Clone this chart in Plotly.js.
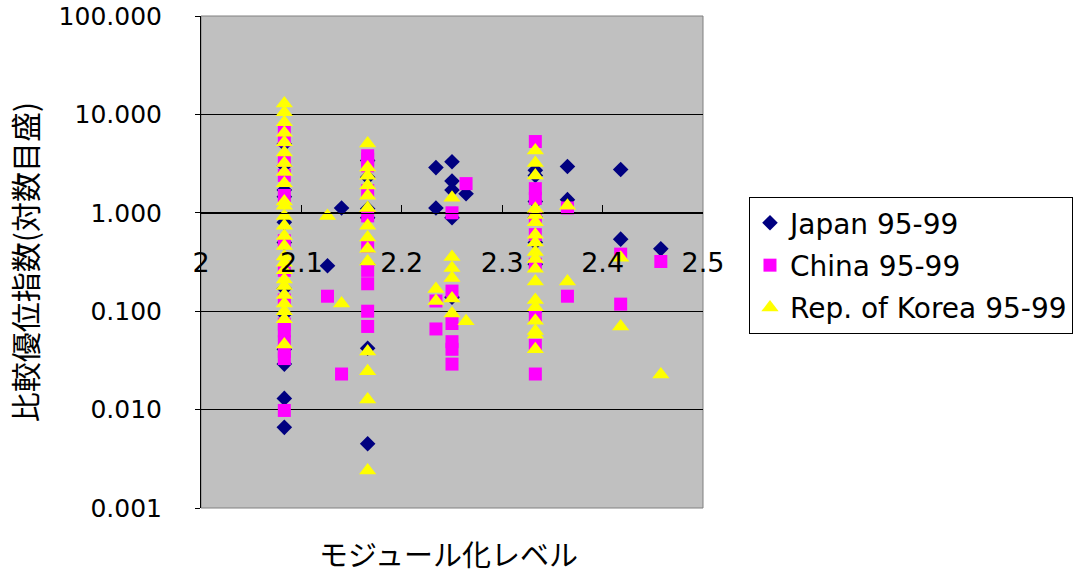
<!DOCTYPE html>
<html>
<head>
<meta charset="utf-8">
<script src="https://cdn.plot.ly/plotly-3.0.1.min.js"></script>
<style>html,body{margin:0;padding:0;background:#fff;}#chart{width:1076px;height:574px;}</style>
</head>
<body>
<div id="chart"></div>
<script>
// Japan 95-99
const japanX = [2.083,2.083,2.083,2.083,2.083,2.083,2.083,2.083,2.083,2.083,2.083,2.083,
  2.126, 2.14,
  2.166,2.166,2.166,2.166,2.166,2.166,2.166,
  2.234,2.234, 2.25,2.25,2.25,2.25,2.25, 2.264,
  2.333,2.333,2.333,2.333,2.333,2.333,2.333,
  2.365,2.365, 2.418,2.418, 2.458];
const japanY = [5.0,3.0,1.7,1.46,0.8,0.5,0.17,0.093,0.041,0.029,0.013,0.0066,
  0.29, 1.12,
  3.4,2.3,1.1,0.89,0.3,0.042,0.0045,
  2.88,1.12, 3.3,2.1,1.7,0.89,0.139, 1.56,
  2.7,2.4,1.3,0.9,0.5,0.3,0.1,
  2.95,1.36, 2.75,0.54, 0.43];

// China 95-99
const chinaX = [2.083,2.083,2.083,2.083,2.083,2.083,2.083,2.083,2.083,2.083,2.083,2.083,2.083,2.083,
  2.126, 2.14,
  2.166,2.166,2.166,2.166,2.166,2.166,2.166,2.166,2.166,2.166,
  2.25,2.25,2.25,2.25,2.25,2.25, 2.234,2.234, 2.264,
  2.333,2.333,2.333,2.333,2.333,2.333,2.333,2.333,2.333,
  2.365,2.365, 2.418,2.418, 2.458];
const chinaY = [7.0,5.5,3.4,2.4,1.5,0.52,0.26,0.13,0.074,0.063,0.049,0.039,0.033,0.0098,
  0.142, 0.023,
  3.8,3.5,3.0,1.68,0.93,0.46,0.26,0.19,0.10,0.07,
  1.0,0.16,0.075,0.049,0.041,0.029, 0.127,0.066, 1.98,
  5.3,1.76,1.4,0.9,0.6,0.3,0.089,0.045,0.023,
  1.12,0.142, 0.38,0.118, 0.32];

// Rep. of Korea 95-99
const koreaX = [2.083,2.083,2.083,2.083,2.083,2.083,2.083,2.083,2.083,2.083,2.083,2.083,2.083,
  2.083,2.083,2.083,2.083,2.083,2.083,2.083,2.083,2.083,2.083,2.083,2.083,
  2.126, 2.14,
  2.166,2.166,2.166,2.166,2.166,2.166,2.166,2.166,2.166,2.166,2.166,2.166,2.166,2.166,
  2.234,2.234, 2.25,2.25,2.25,2.25,2.25,2.25, 2.264,
  2.333,2.333,2.333,2.333,2.333,2.333,2.333,2.333,2.333,2.333,2.333,2.333,2.333,2.333,2.333,2.333,2.333,2.333,
  2.365,2.365, 2.418,2.418, 2.458];
const koreaY = [12.9,10.5,8.3,6.5,5.2,4.1,3.2,2.6,2.0,1.3,1.18,0.93,0.74,
  0.58,0.46,0.36,0.31,0.26,0.21,0.18,0.146,0.12,0.10,0.083,0.046,
  0.93, 0.12,
  5.06,2.88,2.38,1.89,1.49,1.12,0.74,0.56,0.43,0.32,0.039,0.0245,0.0127,0.0024,
  0.168,0.127, 1.42,0.355,0.275,0.217,0.135,0.095, 0.079,
  4.3,3.2,2.4,1.1,0.95,0.8,0.6,0.5,0.4,0.34,0.27,0.2,0.13,0.11,0.08,0.063,0.058,0.041,
  1.18,0.2, 0.35,0.07, 0.0227];

const seriesNames = ['Japan 95-99','China 95-99','Rep. of Korea 95-99'];
const yTickVals = [0.001,0.01,0.1,1,10,100];
const yTickText = ['0.001','0.010','0.100','1.000','10.000','100.000'];
const xTitle = 'モジュール化レベル';
const yTitle = '比較優位指数(対数目盛)';

const latin = 'DejaVu Sans, Arial, sans-serif';
const cjk = '"Noto Sans CJK JP", sans-serif';

const traces = [
  {x: japanX, y: japanY, name: seriesNames[0], type: 'scatter', mode: 'markers', legendgroup: 'a',
   marker: {symbol: 'diamond', size: 12, color: '#000080', line: {width: 0}}},
  {x: chinaX, y: chinaY, name: seriesNames[1], type: 'scatter', mode: 'markers', legendgroup: 'b',
   marker: {symbol: 'square', size: 13, color: '#FF00FF', line: {width: 0}}},
  {x: koreaX, y: koreaY, name: seriesNames[2], type: 'scatter', mode: 'markers', legendgroup: 'c',
   marker: {symbol: 'triangle-up', size: 15, color: '#FFFF00', line: {width: 0}}}
];

const layout = {
  width: 1076, height: 574,
  margin: {l: 201, r: 373, t: 16, b: 66, pad: 0, autoexpand: false},
  paper_bgcolor: '#ffffff',
  plot_bgcolor: '#C0C0C0',
  showlegend: true,
  legend: {
    x: 1.0916, y: 0.632, xanchor: 'left', yanchor: 'top',
    bgcolor: '#ffffff', bordercolor: '#000000', borderwidth: 1,
    font: {family: latin, size: 28, color: '#000'},
    traceorder: 'grouped', tracegroupgap: 3
  },
  xaxis: {
    type: 'linear', range: [2, 2.5], dtick: 0.1, tick0: 2,
    anchor: 'free', position: 0.6,
    showline: true, linecolor: '#000', linewidth: 1,
    ticks: 'inside', ticklen: 8, tickcolor: '#000', tickwidth: 1,
    showgrid: false, zeroline: false,
    tickfont: {family: latin, size: 27, color: '#000'},
    ticklabelstandoff: 26
  },
  yaxis: {
    type: 'log', range: [-3, 2],
    tickvals: yTickVals, ticktext: yTickText,
    showline: true, linecolor: '#000', linewidth: 1,
    ticks: 'outside', ticklen: 5, tickcolor: '#000',
    showgrid: true, gridcolor: '#000', gridwidth: 1, zeroline: false,
    tickfont: {family: latin, size: 25, color: '#000'},
    ticklabelstandoff: 28,
    title: {text: yTitle, font: {family: cjk, size: 30, color: '#000'}, standoff: 12}
  },
  annotations: [
    {text: xTitle, xref: 'paper', yref: 'paper', x: 0.494, y: -0.0915,
     xanchor: 'center', yanchor: 'middle', showarrow: false,
     font: {family: cjk, size: 29, color: '#000'}}
  ],
  shapes: [
    {type: 'rect', xref: 'paper', yref: 'paper', x0: 0, x1: 1, y0: 0, y1: 1,
     line: {color: '#808080', width: 1}, layer: 'below'}
  ]
};

Plotly.newPlot('chart', traces, layout, {displayModeBar: false, staticPlot: true});
</script>
</body>
</html>
